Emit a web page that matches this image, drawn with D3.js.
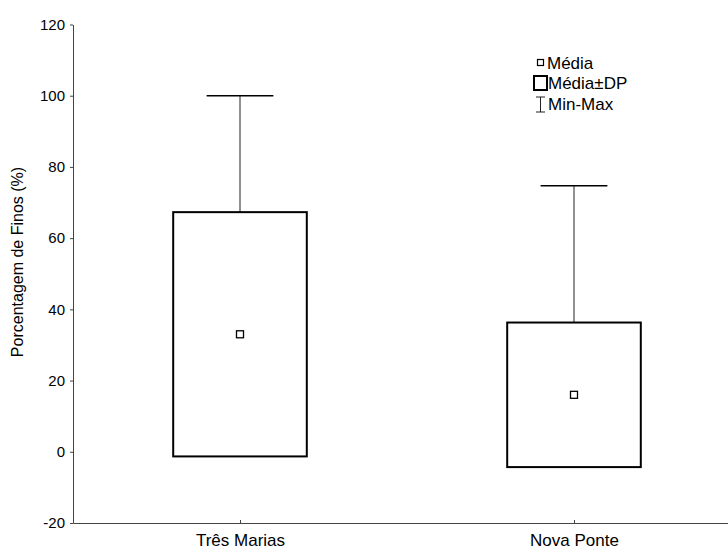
<!DOCTYPE html>
<html>
<head>
<meta charset="utf-8">
<script src="https://cdn.jsdelivr.net/npm/d3@7"></script>
<style>
body { margin: 0; background: #fff; }
text { font-family: "Liberation Sans", Arial, sans-serif; fill: #000; }
</style>
</head>
<body>
<div id="chart"></div>
<script>
var categories = ["Três Marias", "Nova Ponte"];
var means = [33.0, 16.0];
var sds = [34.3, 20.3];
var maxs = [100, 74.7];
var mins = [0, 0];
var yTicks = [-20, 0, 20, 40, 60, 80, 100, 120];

var width = 728;
var height = 550;

var svg = d3.select("#chart").append("svg")
    .attr("width", width).attr("height", height);

// category i sits at x = i + 1
var x = d3.scaleLinear().domain([0.5, 2.5]).range([73, 741]);
var y = d3.scaleLinear().domain([-20, 120]).range([523, 24.5]);

// axes
var yAxis = svg.append("g")
    .attr("transform", "translate(73,0)")
    .call(d3.axisLeft(y).tickValues(yTicks).tickFormat(function(d) { return String(d); })
        .tickSizeInner(3).tickSizeOuter(0).tickPadding(5));
yAxis.selectAll("text").style("font-size", "15px");

var xAxis = svg.append("g")
    .attr("transform", "translate(0,523)")
    .call(d3.axisBottom(x).tickValues([1, 2])
        .tickFormat(function(d) { return categories[d - 1]; })
        .tickSizeInner(-3).tickSizeOuter(0).tickPadding(11));
xAxis.selectAll("text").style("font-size", "17px");

svg.selectAll(".domain").attr("stroke", "#444");
svg.selectAll(".tick line").attr("stroke", "#444");

svg.append("text")
    .attr("transform", "translate(23,262) rotate(-90)")
    .attr("text-anchor", "middle")
    .style("font-size", "16px")
    .text("Porcentagem de Finos (%)");

// whiskers (min-max), drawn behind the box
var groups = svg.selectAll(".cat").data(categories).enter().append("g");

groups.append("line")
    .attr("x1", function(d, i) { return x(i + 1); })
    .attr("x2", function(d, i) { return x(i + 1); })
    .attr("y1", function(d, i) { return y(mins[i]); })
    .attr("y2", function(d, i) { return y(maxs[i]); })
    .attr("stroke", "#222").attr("stroke-width", 1);

groups.append("line")
    .attr("x1", function(d, i) { return x(i + 0.9); })
    .attr("x2", function(d, i) { return x(i + 1.1); })
    .attr("y1", function(d, i) { return y(maxs[i]); })
    .attr("y2", function(d, i) { return y(maxs[i]); })
    .attr("stroke", "#000").attr("stroke-width", 1.5);

groups.append("line")
    .attr("x1", function(d, i) { return x(i + 0.9); })
    .attr("x2", function(d, i) { return x(i + 1.1); })
    .attr("y1", function(d, i) { return y(mins[i]); })
    .attr("y2", function(d, i) { return y(mins[i]); })
    .attr("stroke", "#000").attr("stroke-width", 1.5);

// mean +- sd box
groups.append("rect")
    .attr("x", function(d, i) { return x(i + 0.8); })
    .attr("width", function(d, i) { return x(i + 1.2) - x(i + 0.8); })
    .attr("y", function(d, i) { return y(means[i] + sds[i]); })
    .attr("height", function(d, i) { return y(means[i] - sds[i]) - y(means[i] + sds[i]); })
    .attr("fill", "#fff").attr("stroke", "#000").attr("stroke-width", 2);

// mean marker
groups.append("rect")
    .attr("x", function(d, i) { return x(i + 1) - 3.5; })
    .attr("y", function(d, i) { return y(means[i]) - 3.5; })
    .attr("width", 7).attr("height", 7)
    .attr("fill", "#fff").attr("stroke", "#000").attr("stroke-width", 1.3);

// legend
var legend = svg.append("g").attr("transform", "translate(533,0)");
legend.append("rect").attr("x", 4.5).attr("y", 59.5).attr("width", 6).attr("height", 6)
    .attr("fill", "#fff").attr("stroke", "#000").attr("stroke-width", 1.2);
legend.append("text").attr("x", 14).attr("y", 69).style("font-size", "17px").text("Média");

legend.append("rect").attr("x", 1).attr("y", 76).attr("width", 13).attr("height", 14)
    .attr("fill", "#fff").attr("stroke", "#000").attr("stroke-width", 2);
legend.append("text").attr("x", 15).attr("y", 89).style("font-size", "17px").text("Média±DP");

legend.append("line").attr("x1", 7.5).attr("x2", 7.5).attr("y1", 97).attr("y2", 112)
    .attr("stroke", "#222").attr("stroke-width", 1);
legend.append("line").attr("x1", 3).attr("x2", 12).attr("y1", 97).attr("y2", 97)
    .attr("stroke", "#222").attr("stroke-width", 1);
legend.append("line").attr("x1", 3).attr("x2", 12).attr("y1", 112).attr("y2", 112)
    .attr("stroke", "#222").attr("stroke-width", 1);
legend.append("text").attr("x", 15).attr("y", 110).style("font-size", "17px").text("Min-Max");
</script>
</body>
</html>
